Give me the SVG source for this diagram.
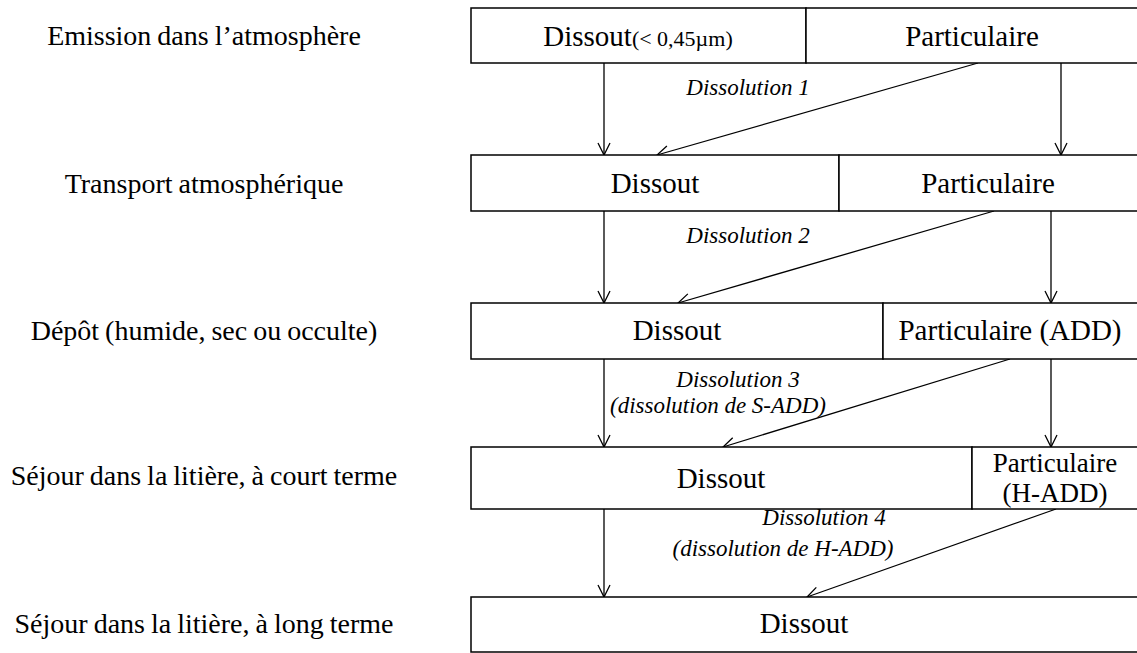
<svg xmlns="http://www.w3.org/2000/svg" width="1137" height="653" viewBox="0 0 1137 653">
<style>
.box{fill:#fff;stroke:#000;stroke-width:1.5}
.lab{font-family:"Liberation Serif","Times New Roman",serif;font-size:28px;word-spacing:-1px;fill:#000;text-anchor:middle}
.bt{font-family:"Liberation Serif","Times New Roman",serif;font-size:29px;fill:#000;text-anchor:middle}
.bt2{font-size:27px}
.sm{font-size:22px}
.it{font-family:"Liberation Serif","Times New Roman",serif;font-size:23px;font-style:italic;fill:#000;text-anchor:middle}
.con{stroke:#000;stroke-width:1.3;fill:none;marker-end:url(#arr)}
</style>
<defs>
<marker id="arr" markerUnits="userSpaceOnUse" markerWidth="16" markerHeight="16" viewBox="-14 -8 16 16" refX="0" refY="0" orient="auto">
<path d="M-12,-6 L0,0 L-12,6" fill="none" stroke="#000" stroke-width="1.3"/>
</marker>
</defs>
<rect width="1137" height="653" fill="#fff"/>
<g id="stage-labels">
<text class="lab" x="204" y="45">Emission dans l’atmosphère</text>
<text class="lab" x="204" y="193">Transport atmosphérique</text>
<text class="lab" x="204" y="340">Dépôt (humide, sec ou occulte)</text>
<text class="lab" x="204" y="485">Séjour dans la litière, à court terme</text>
<text class="lab" x="204" y="633">Séjour dans la litière, à long terme</text>
</g>
<g id="connectors">
<line class="con" x1="604" y1="63" x2="604" y2="155"/>
<line class="con" x1="1061" y1="63" x2="1061" y2="155"/>
<line class="con" x1="978" y1="63" x2="657" y2="155"/>
<line class="con" x1="604" y1="211" x2="604" y2="303"/>
<line class="con" x1="1051" y1="211" x2="1051" y2="303"/>
<line class="con" x1="994" y1="211" x2="678" y2="303"/>
<line class="con" x1="604" y1="359" x2="604" y2="447"/>
<line class="con" x1="1051" y1="359" x2="1051" y2="447"/>
<line class="con" x1="1010" y1="359" x2="723" y2="447"/>
<line class="con" x1="604" y1="509" x2="604" y2="597"/>
<line class="con" x1="1056" y1="509" x2="807" y2="597"/>
<text class="it" x="748" y="95">Dissolution 1</text>
<text class="it" x="748" y="243">Dissolution 2</text>
<text class="it" x="738" y="387">Dissolution 3</text>
<text class="it" x="718" y="413">(dissolution de S-ADD)</text>
<text class="it" x="824" y="525">Dissolution 4</text>
<text class="it" x="783" y="556">(dissolution de H-ADD)</text>
</g>
<g id="emission-dissout">
<rect class="box" x="471" y="8" width="335" height="55"/>
<text class="bt" x="638" y="46">Dissout<tspan class="sm">(&lt; 0,45µm)</tspan></text>
</g>
<g id="emission-particulaire">
<rect class="box" x="806" y="8" width="336" height="55"/>
<text class="bt" x="972" y="46">Particulaire</text>
</g>
<g id="transport-dissout">
<rect class="box" x="471" y="155" width="368" height="56"/>
<text class="bt" x="655" y="193">Dissout</text>
</g>
<g id="transport-particulaire">
<rect class="box" x="839" y="155" width="303" height="56"/>
<text class="bt" x="988" y="193">Particulaire</text>
</g>
<g id="depot-dissout">
<rect class="box" x="471" y="303" width="412" height="56"/>
<text class="bt" x="677" y="340">Dissout</text>
</g>
<g id="depot-particulaire">
<rect class="box" x="883" y="303" width="259" height="56"/>
<text class="bt" x="1010" y="340">Particulaire (ADD)</text>
</g>
<g id="court-dissout">
<rect class="box" x="471" y="447" width="501" height="62"/>
<text class="bt" x="721" y="488">Dissout</text>
</g>
<g id="court-particulaire">
<rect class="box" x="972" y="447" width="170" height="62"/>
<text class="bt bt2" x="1055" y="472">Particulaire</text>
<text class="bt bt2" x="1055" y="502">(H-ADD)</text>
</g>
<g id="long-dissout">
<rect class="box" x="471" y="597" width="671" height="55"/>
<text class="bt" x="804" y="633">Dissout</text>
</g>
</svg>
